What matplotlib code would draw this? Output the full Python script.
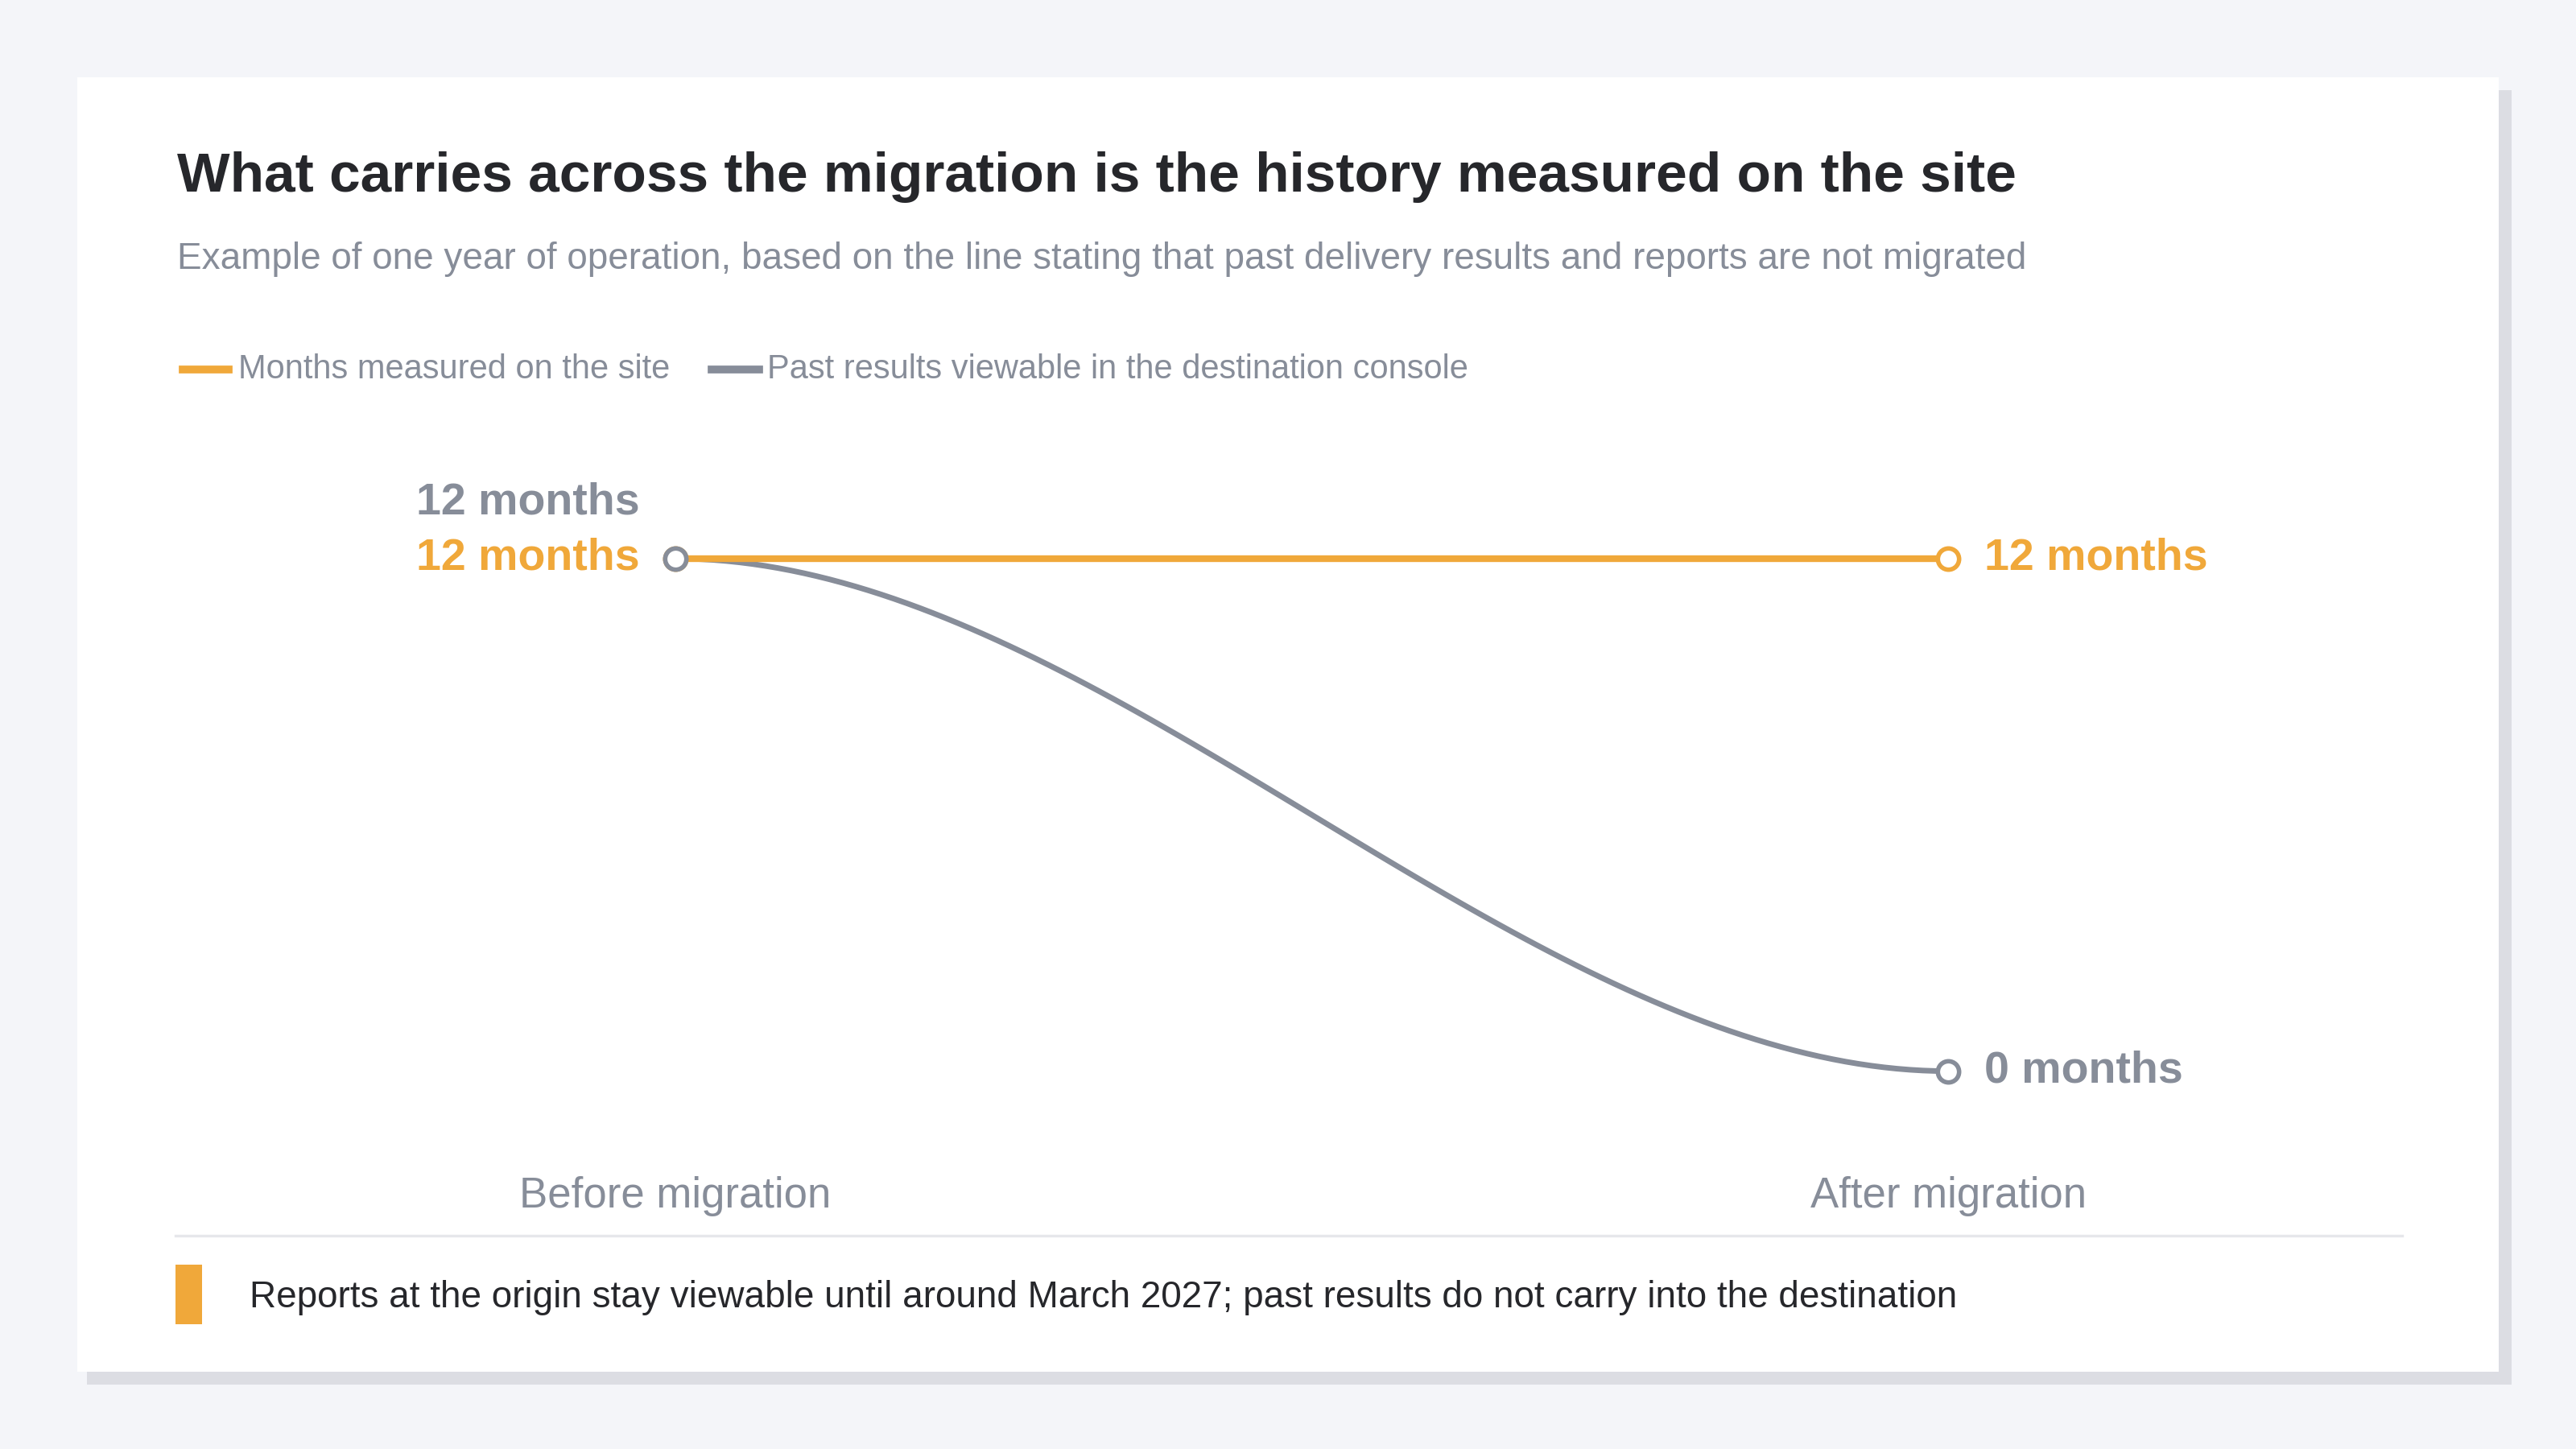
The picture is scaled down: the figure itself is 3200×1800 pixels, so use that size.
import numpy as np
import matplotlib.pyplot as plt
from matplotlib.patches import Rectangle

plt.rcParams['font.family'] = ['Liberation Sans', 'DejaVu Sans']

stages = ["Before migration", "After migration"]
site_months = [12, 12]
console_months = [12, 0]

orange = "#f0a83a"
grey = "#878d99"

fig = plt.figure(figsize=(16, 9), dpi=200)
fig.patch.set_facecolor("#f4f5f9")

W, H = 1568, 882
def fx(x): return x / W
def fy(y): return 1 - y / H

# card + shadow
fig.patches.append(Rectangle((fx(53), fy(843)), fx(1476), 788 / H, transform=fig.transFigure,
                             facecolor="#dcdde3", edgecolor="none", zorder=0))
fig.patches.append(Rectangle((fx(47), fy(835)), fx(1474), 788 / H, transform=fig.transFigure,
                             facecolor="white", edgecolor="none", zorder=1))

fig.text(fx(108), fy(108), "What carries across the migration is the history measured on the site",
         fontsize=25, fontweight="bold", color="#26272b", va="center", zorder=6)
fig.text(fx(108), fy(158), "Example of one year of operation, based on the line stating that past delivery results and reports are not migrated",
         fontsize=16.5, color="#878d99", va="center", zorder=6)

# legend
fig.lines.append(plt.Line2D([fx(111), fx(139)], [fy(225)] * 2, transform=fig.transFigure, color=orange, lw=3.5, zorder=6))
fig.text(fx(145), fy(225), "Months measured on the site", fontsize=15, color=grey, va="center", zorder=6)
fig.lines.append(plt.Line2D([fx(433), fx(462)], [fy(225)] * 2, transform=fig.transFigure, color=grey, lw=3.5, zorder=6))
fig.text(fx(467), fy(225), "Past results viewable in the destination console", fontsize=15, color=grey, va="center", zorder=6)

ax = fig.add_axes([fx(411), fy(652), fx(1186) - fx(411), fy(340) - fy(652)])
ax.set_zorder(5)
ax.patch.set_alpha(0)
ax.set_xlim(0, 1)
ax.set_ylim(0, 12)
ax.axis("off")

x = np.arange(len(stages))
ax.plot(x, site_months, color=orange, lw=3, zorder=3, clip_on=False)
# smooth S-shaped connection between the two console points
t = np.linspace(0, 1, 100)
s = t * t * (3 - 2 * t)
ax.plot(t, console_months[0] + (console_months[1] - console_months[0]) * s, color=grey, lw=2.5, zorder=2, clip_on=False)
ax.scatter(x, site_months, s=90, facecolor="white", edgecolor=orange, lw=2, zorder=4, clip_on=False)
ax.scatter(x, console_months, s=90, facecolor="white", edgecolor=grey, lw=2, zorder=4, clip_on=False)

ax.annotate(f"{console_months[0]} months", (0, console_months[0]), xytext=(-16, 25), textcoords="offset points",
            ha="right", va="center", fontsize=20, fontweight="bold", color=grey)
ax.annotate(f"{site_months[0]} months", (0, site_months[0]), xytext=(-16, 0), textcoords="offset points",
            ha="right", va="center", fontsize=20, fontweight="bold", color=orange)
ax.annotate(f"{site_months[1]} months", (1, site_months[1]), xytext=(16, 0), textcoords="offset points",
            ha="left", va="center", fontsize=20, fontweight="bold", color=orange)
ax.annotate(f"{console_months[1]} months", (1, console_months[1]), xytext=(16, 0), textcoords="offset points",
            ha="left", va="center", fontsize=20, fontweight="bold", color=grey)

for i, lab in enumerate(stages):
    fig.text(fx(411 if i == 0 else 1186), fy(728), lab, fontsize=19, color=grey, ha="center", va="center", zorder=6)

fig.lines.append(plt.Line2D([fx(107), fx(1462)], [fy(752)] * 2, transform=fig.transFigure, color="#e6e7eb", lw=1.2, zorder=6))
fig.patches.append(Rectangle((fx(107), fy(806)), fx(16), 36 / H, transform=fig.transFigure,
                             facecolor=orange, edgecolor="none", zorder=2))
fig.text(fx(152), fy(790), "Reports at the origin stay viewable until around March 2027; past results do not carry into the destination",
         fontsize=16.5, color="#26272b", va="center", zorder=6)

fig.savefig("out.png", dpi=200, facecolor=fig.get_facecolor())
